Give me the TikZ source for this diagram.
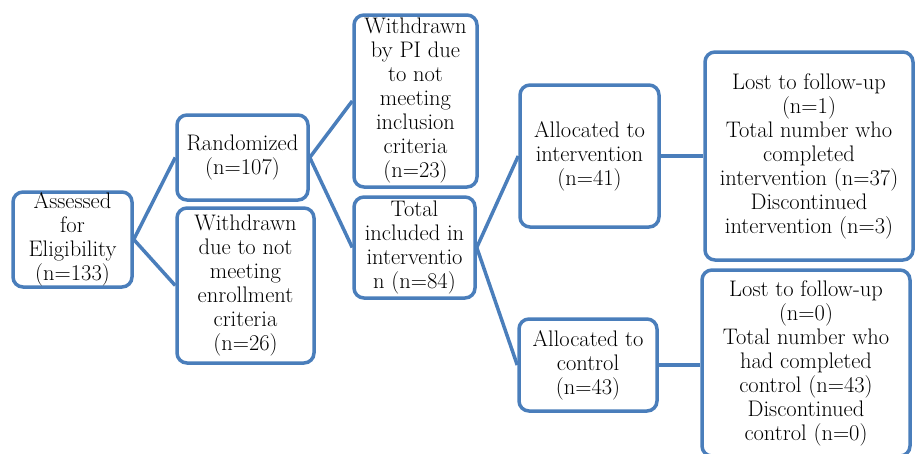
\documentclass[tikz,border=0pt]{standalone}
\definecolor{boxblue}{HTML}{4A7EBB}
\tikzset{
  box/.style={draw=boxblue, line width=3.5pt, rounded corners=10pt, fill=white,
    inner sep=0pt, align=center, font=\fontsize{22.5}{24}\selectfont},
  conn/.style={draw=boxblue, line width=3.5pt}
}
\begin{document}
\begin{tikzpicture}[x=1pt,y=-1pt]
\useasboundingbox (0,0) rectangle (915,453);
\node[box, minimum width=119pt, minimum height=95pt] (assess) at (72.5,239.5) {Assessed\\for\\Eligibility\\(n=133)};
\node[box, minimum width=131pt, minimum height=85pt] (rand) at (242.5,157.5) {Randomized\\(n=107)};
\node[box, minimum width=137pt, minimum height=155pt] (wdue) at (245.5,285.5) {Withdrawn\\due to not\\meeting\\enrollment\\criteria\\(n=26)};
\node[box, minimum width=123pt, minimum height=172pt] (wpi) at (415.5,101) {Withdrawn\\by PI due\\to not\\meeting\\inclusion\\criteria\\(n=23)};
\node[box, minimum width=121pt, minimum height=101pt] (total) at (414.5,247.5) {Total\\included in\\interventio\\n (n=84)};
\node[box, minimum width=139pt, minimum height=142pt] (allint) at (589.5,156) {Allocated to\\intervention\\(n=41)};
\node[box, minimum width=138pt, minimum height=92pt] (allctl) at (588,365) {Allocated to\\control\\(n=43)};
\node[box, minimum width=208pt, minimum height=208pt] (lost1) at (809,156) {Lost to follow-up\\(n=1)\\Total number who\\completed\\intervention (n=37)\\Discontinued\\intervention (n=3)};
\node[box, minimum width=208pt, minimum height=186pt] (lost2) at (806,363) {Lost to follow-up\\(n=0)\\Total number who\\had completed\\control (n=43)\\Discontinued\\control (n=0)};
\draw[conn] (assess.east) -- (rand.west);
\draw[conn] (assess.east) -- (wdue.west);
\draw[conn] (rand.east) -- (wpi.west);
\draw[conn] (rand.east) -- (total.west);
\draw[conn] (total.east) -- (allint.west);
\draw[conn] (total.east) -- (allctl.west);
\draw[conn] (allint.east) -- (lost1.west);
\draw[conn] (allctl.east) -- (lost2.west |- allctl.east);
\end{tikzpicture}
\end{document}
